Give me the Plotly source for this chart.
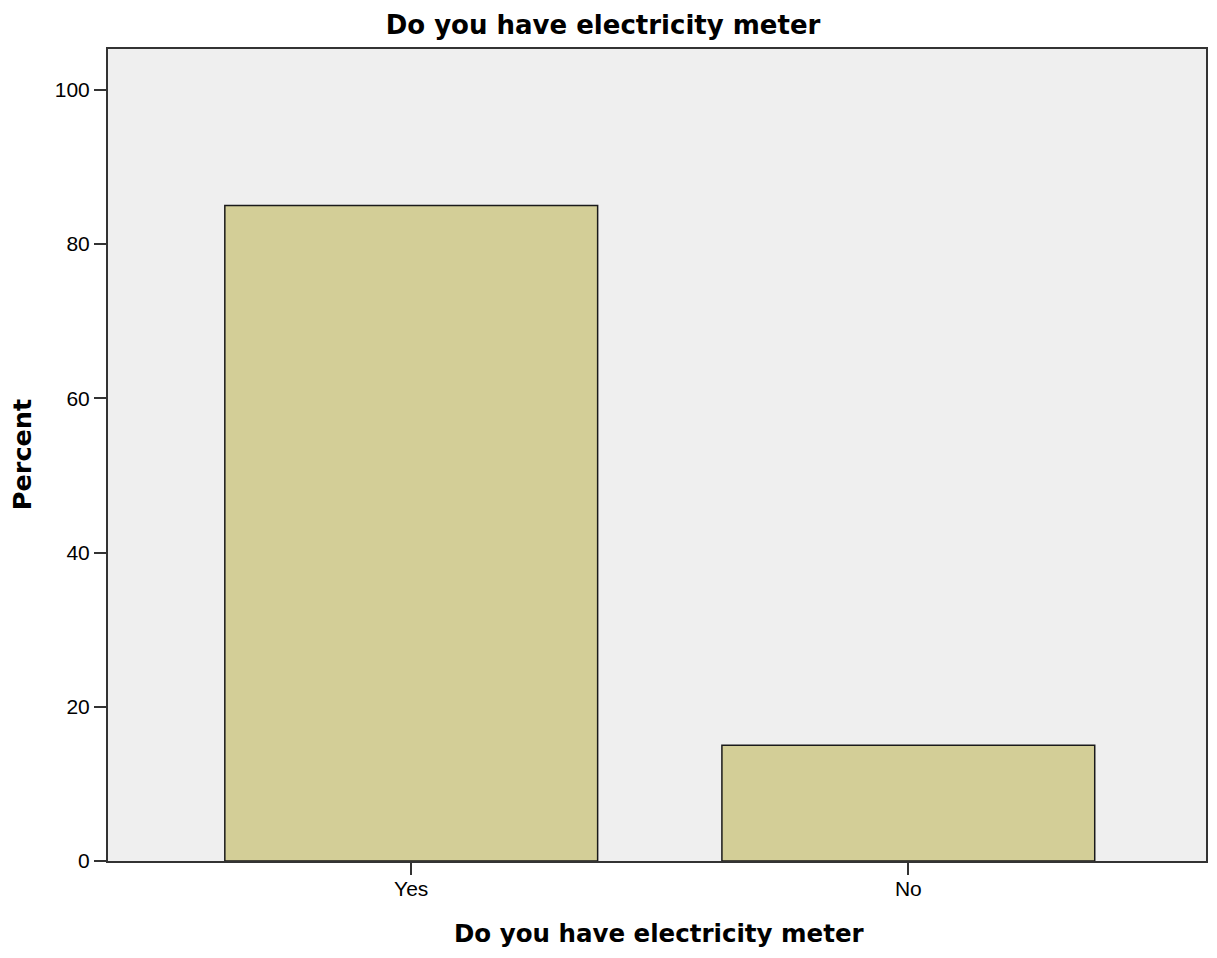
import plotly.graph_objects as go

categories = ["Yes", "No"]
percent = [85.0, 15.0]
y_ticks = [0, 20, 40, 60, 80, 100]

fig = go.Figure(go.Bar(
    x=categories, y=percent, width=0.75,
    marker=dict(color="#d3ce97", line=dict(color="#1a1a1a", width=1.5)),
))

# page body has an 8px margin; figure placed at (8, 8)
W, H = 1201, 942
l, r, t, b = 100, 1, 41, 89
PW, PH = W - l - r, H - t - b
FONT = "Liberation Sans, Arial"
TFONT = "DejaVu Sans"
fig.update_layout(
    width=W, height=H,
    margin=dict(l=l, r=r, t=t, b=b),
    paper_bgcolor="white", plot_bgcolor="#efefef",
    font=dict(family=FONT, color="#000000", size=21),
    showlegend=False,
    title=dict(text="<b>Do you have electricity meter</b>", x=(603 - 8) / W, xanchor="center",
               y=1 - 17 / H, yanchor="middle", yref="container",
               font=dict(size=26, family=TFONT)),
    annotations=[
        dict(text="<b>Do you have electricity meter</b>", xref="paper", x=(661 - 108) / PW,
             yref="paper", y=-(926 - (H - b)) / PH, xanchor="center", yanchor="middle",
             showarrow=False, font=dict(size=24.5, family=TFONT)),
        dict(text="<b>Percent</b>", xref="paper", x=-(l - 14) / PW, yref="paper", y=0.5,
             xanchor="center", yanchor="middle", textangle=-90,
             showarrow=False, font=dict(size=25.5, family=TFONT)),
    ],
)
fig.update_xaxes(
    range=[-0.61, -0.61 + PW / 498.0], showgrid=False, zeroline=False,
    showline=True, linecolor="#333333", linewidth=2, mirror=True,
    ticks="outside", ticklen=12, tickcolor="#333333", tickwidth=1.5,
    tickfont=dict(size=21), ticklabelstandoff=-4,
)
fig.update_yaxes(
    range=[0, 105.3], tickvals=y_ticks, showgrid=False, zeroline=False,
    showline=True, linecolor="#333333", linewidth=2, mirror=True,
    ticks="outside", ticklen=12, tickcolor="#333333", tickwidth=1.5,
    tickfont=dict(size=21),
)
fig.write_html("out.html")
